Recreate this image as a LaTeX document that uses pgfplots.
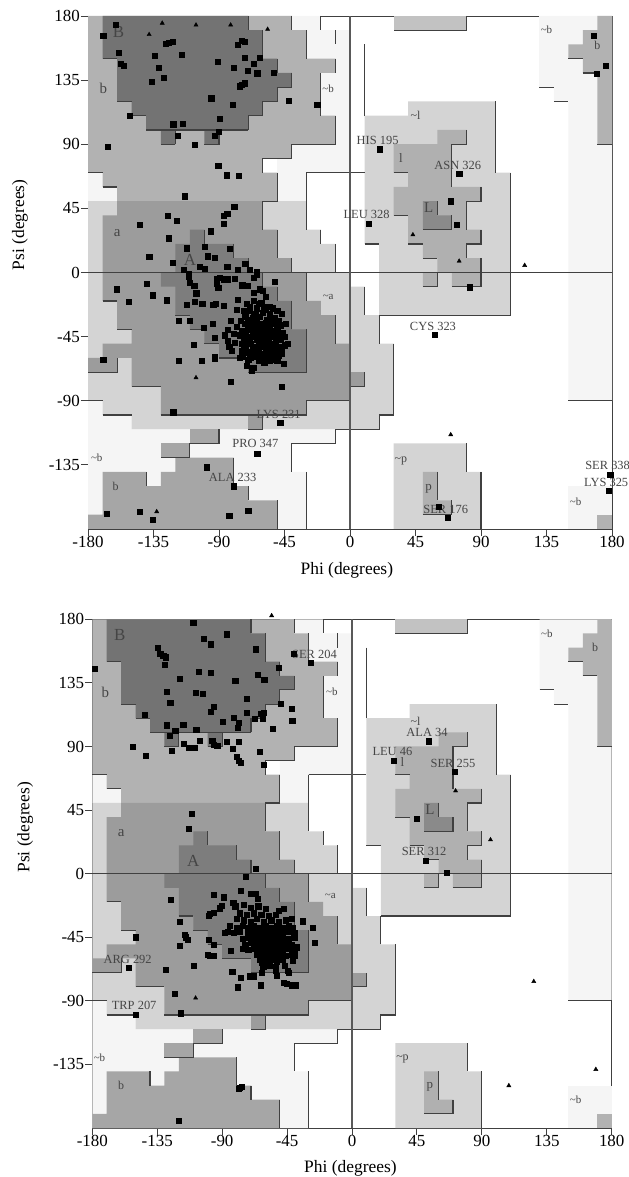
\documentclass[border=0pt]{standalone}
\usepackage{pgfplots}
\pgfplotsset{compat=1.18}
\usepackage{fontspec}
\setmainfont{Liberation Serif}
\definecolor{cB}{gray}{0.45}
\definecolor{cA}{gray}{0.49}
\definecolor{ca}{gray}{0.61}
\definecolor{cb}{gray}{0.70}
\definecolor{clb}{gray}{0.65}
\definecolor{cga}{gray}{0.83}
\definecolor{cp}{gray}{0.96}
\definecolor{cl}{gray}{0.69}
\definecolor{cgl}{gray}{0.83}
\definecolor{cL}{gray}{0.54}
\definecolor{cst}{gray}{0.76}
\definecolor{cln}{gray}{0.25}
\definecolor{ctx}{gray}{0.27}
\newcommand{\regions}{%
% very pale
\addplot[fill=cp,draw=none] coordinates {(-180,-90)(-170,-90)(-170,-100)(-150,-100)(-150,-110)(-10,-110)(-10,-120)(-40,-120)(-40,-140)(-30,-140)(-30,-180)(-180,-180)} -- cycle;
\addplot[fill=cp,draw=none] coordinates {(-180,70)(-170,70)(-170,60)(-160,60)(-160,50)(-180,50)} -- cycle;
\addplot[fill=cp,draw=none] coordinates {(-40,180)(-20,180)(-20,170)(0,170)(0,70)(-30,70)(-30,50)(-50,50)(-50,180)} -- cycle;
\addplot[fill=cp,draw=none] coordinates {(130,180)(180,180)(180,-90)(150,-90)(150,120)(140,120)(140,130)(130,130)} -- cycle;
\addplot[fill=cp,draw=none] coordinates {(150,-150)(180,-150)(180,-180)(150,-180)} -- cycle;
% light a
\addplot[fill=cga,draw=none] coordinates {(-180,50)(-30,50)(-30,30)(-20,30)(-20,20)(-10,20)(-10,0)(0,0)(0,-10)(10,-10)(10,-30)(20,-30)(20,-50)(30,-50)(30,-100)(20,-100)(20,-110)(-150,-110)(-150,-100)(-170,-100)(-170,-90)(-180,-90)} -- cycle;
% b upper
\addplot[fill=cb,draw=none] coordinates {(-180,180)(-40,180)(-40,170)(-30,170)(-30,150)(-10,150)(-10,140)(-20,140)(-20,110)(-10,110)(-10,90)(-40,90)(-40,80)(-60,80)(-60,70)(-50,70)(-50,50)(-160,50)(-160,60)(-170,60)(-170,70)(-180,70)} -- cycle;
% a
\addplot[fill=ca,draw=none] coordinates {(-160,50)(-60,50)(-60,30)(-50,30)(-50,10)(-40,10)(-40,0)(-30,0)(-30,-20)(-20,-20)(-20,-30)(-10,-30)(-10,-50)(0,-50)(0,-90)(-30,-90)(-30,-100)(-60,-100)(-60,-110)(-70,-110)(-70,-100)(-130,-100)(-130,-80)(-150,-80)(-150,-60)(-160,-60)(-160,-70)(-180,-70)(-180,-60)(-170,-60)(-170,-50)(-150,-50)(-150,-40)(-160,-40)(-160,-20)(-170,-20)(-170,40)(-160,40)} -- cycle;
\addplot[fill=ca,draw=none] coordinates {(0,-70)(10,-70)(10,-80)(0,-80)} -- cycle;
% lower b
\addplot[fill=clb,draw=none] coordinates {(-170,-140)(-140,-140)(-140,-150)(-130,-150)(-130,-140)(-120,-140)(-120,-130)(-80,-130)(-80,-150)(-70,-150)(-70,-160)(-50,-160)(-50,-180)(-180,-180)(-180,-170)(-170,-170)} -- cycle;
\addplot[fill=clb,draw=none] coordinates {(-130,-120)(-110,-120)(-110,-130)(-130,-130)} -- cycle;
\addplot[fill=clb,draw=none] coordinates {(-110,-110)(-90,-110)(-90,-120)(-110,-120)} -- cycle;
% B core
\addplot[fill=cB,draw=none] coordinates {(-170,180)(-70,180)(-70,170)(-60,170)(-60,150)(-50,150)(-50,140)(-40,140)(-40,130)(-50,130)(-50,120)(-60,120)(-60,110)(-70,110)(-70,100)(-90,100)(-90,90)(-100,90)(-100,100)(-120,100)(-120,90)(-130,90)(-130,100)(-140,100)(-140,110)(-150,110)(-150,120)(-160,120)(-160,150)(-170,150)} -- cycle;
% A core
\addplot[fill=cA,draw=none] coordinates {(-110,30)(-100,30)(-100,20)(-80,20)(-80,10)(-70,10)(-70,0)(-60,0)(-60,-10)(-50,-10)(-50,-20)(-40,-20)(-40,-40)(-30,-40)(-30,-70)(-70,-70)(-70,-60)(-90,-60)(-90,-50)(-100,-50)(-100,-40)(-110,-40)(-110,-30)(-120,-30)(-120,-10)(-130,-10)(-130,0)(-120,0)(-120,20)(-110,20)} -- cycle;
% top strip, l regions
\addplot[fill=cst,draw=none] coordinates {(30,180)(80,180)(80,170)(30,170)} -- cycle;
\addplot[fill=cgl,draw=none] coordinates {(40,120)(100,120)(100,70)(110,70)(110,-30)(20,-30)(20,20)(10,20)(10,110)(40,110)} -- cycle;
\addplot[fill=cl,draw=none] coordinates {(60,100)(80,100)(80,90)(70,90)(70,60)(90,60)(90,50)(80,50)(80,30)(90,30)(90,20)(80,20)(80,10)(90,10)(90,-10)(70,-10)(70,0)(60,0)(60,-10)(50,-10)(50,0)(60,0)(60,10)(50,10)(50,20)(40,20)(40,40)(30,40)(30,60)(40,60)(40,70)(30,70)(30,90)(60,90)} -- cycle;
\addplot[fill=cL,draw=none] coordinates {(50,50)(60,50)(60,40)(70,40)(70,30)(50,30)} -- cycle;
% p
\addplot[fill=cgl,draw=none] coordinates {(30,-120)(80,-120)(80,-140)(90,-140)(90,-180)(30,-180)} -- cycle;
\addplot[fill=cl,draw=none] coordinates {(50,-140)(60,-140)(60,-160)(70,-160)(70,-170)(50,-170)} -- cycle;
% right b
\addplot[fill=cb,draw=none] coordinates {(170,180)(180,180)(180,90)(170,90)(170,140)(160,140)(160,150)(150,150)(150,160)(160,160)(160,170)(170,170)} -- cycle;
\addplot[fill=cb,draw=none] coordinates {(170,-170)(180,-170)(180,-180)(170,-180)} -- cycle;
% outline segments
\addplot[cln,line width=1.1pt,unbounded coords=jump] coordinates {
(-170,150)(-160,150)(nan,nan)(-160,120)(-150,120)(nan,nan)(-150,110)(-140,110)(nan,nan)(-140,100)(-70,100)(nan,nan)
(-130,90)(-120,90)(nan,nan)(-120,90)(-120,100)(nan,nan)(-100,90)(-90,90)(-90,100)(nan,nan)
(-70,180)(-70,170)(nan,nan)(-60,170)(-60,150)(nan,nan)(-50,150)(-50,140)(nan,nan)(-40,140)(-40,130)(-50,130)(-50,120)(-60,120)(-60,110)(-70,110)(-70,100)(nan,nan)
(-40,180)(-40,170)(nan,nan)(-30,170)(-30,150)(nan,nan)(-10,150)(-10,140)(nan,nan)(-20,140)(-20,110)(nan,nan)(-10,110)(-10,90)(-40,90)(-40,80)(-60,80)(-60,70)(nan,nan)
(-50,70)(-50,50)(-60,50)(-60,30)(nan,nan)(-50,30)(-50,10)(nan,nan)(-40,10)(-40,0)(nan,nan)(-30,0)(-30,-20)(nan,nan)
(-180,70)(-170,70)(nan,nan)(-170,60)(-160,60)(nan,nan)
(-20,180)(-20,170)(nan,nan)(-10,170)(-10,160)(nan,nan)(10,160)(10,110)(nan,nan)(-30,70)(10,70)(nan,nan)(-30,70)(-30,30)(nan,nan)(-20,30)(-20,20)(nan,nan)(-10,20)(-10,0)(nan,nan)
(-100,30)(-100,20)(nan,nan)(-80,20)(-80,10)(nan,nan)(-70,10)(-70,0)(nan,nan)(-60,0)(-60,-10)(nan,nan)(-50,-10)(-50,-20)(nan,nan)(-40,-20)(-40,-40)(nan,nan)
(-170,-20)(-160,-20)(nan,nan)(-160,-40)(-150,-40)(nan,nan)(-180,-70)(-160,-70)(-160,-60)(nan,nan)(-150,-80)(-130,-80)(nan,nan)(-130,-100)(-30,-100)(-30,-90)(0,-90)(nan,nan)(-170,-100)(-150,-100)(nan,nan)(-180,-90)(-170,-90)(nan,nan)
(-120,-30)(-110,-30)(nan,nan)(-110,-40)(-100,-40)(nan,nan)(-100,-50)(-90,-50)(nan,nan)(-90,-60)(-70,-60)(nan,nan)(-70,-70)(-30,-70)(-30,-40)(nan,nan)
(-70,-110)(-60,-110)(-60,-100)(nan,nan)(-10,-110)(-10,-120)(-40,-120)(-40,-140)(nan,nan)(-30,-140)(-30,-180)(nan,nan)
(-90,-110)(-90,-120)(-110,-120)(-110,-130)(-130,-130)(nan,nan)(-140,-140)(-140,-150)(nan,nan)(-80,-130)(-80,-150)(nan,nan)(-70,-150)(-70,-160)(nan,nan)(-50,-160)(-50,-180)(nan,nan)
(-10,-30)(-10,-50)(nan,nan)(10,-10)(10,-30)(nan,nan)(20,-30)(20,-50)(nan,nan)(30,-50)(30,-100)(20,-100)(20,-110)(-10,-110)(nan,nan)(0,-80)(10,-80)(10,-70)(nan,nan)
(80,180)(80,170)(30,170)(nan,nan)(100,120)(100,70)(nan,nan)(110,70)(110,-30)(20,-30)(nan,nan)(10,20)(20,20)(nan,nan)
(80,100)(80,90)(70,90)(70,60)(nan,nan)(90,60)(90,50)(80,50)(80,30)(nan,nan)(90,30)(90,20)(80,20)(80,10)(nan,nan)(90,10)(90,-10)(70,-10)(nan,nan)(60,0)(60,-10)(50,-10)(nan,nan)(50,10)(60,10)(nan,nan)(40,20)(50,20)(nan,nan)(30,40)(40,40)(nan,nan)(30,70)(40,70)(nan,nan)
(60,50)(60,40)(nan,nan)(70,40)(70,30)(50,30)(nan,nan)
(80,-120)(80,-140)(nan,nan)(90,-140)(90,-180)(nan,nan)(60,-140)(60,-160)(nan,nan)(70,-160)(70,-170)(50,-170)(nan,nan)
(130,130)(140,130)(nan,nan)(140,120)(150,120)(nan,nan)(170,90)(180,90)(nan,nan)(150,150)(160,150)(nan,nan)(160,140)(170,140)(nan,nan)(150,-90)(180,-90)
};
\addplot[cln,line width=1pt] coordinates {(-180,0)(180,0)};
\addplot[black!65,line width=1.5pt] coordinates {(0,-180)(0,180)};
}
\newcommand{\zlabel}[3]{\node[text=ctx,font=\fontsize{12.5}{14}\selectfont,inner sep=0pt] at (axis cs:#1,#2) {#3};}
\newcommand{\rlabel}[3]{\node[text=ctx,font=\fontsize{#3}{14}\selectfont,inner sep=0pt] at (axis cs:#1) {#2};}
\newcommand{\tl}{\textasciitilde}
\pgfplotsset{rama/.style={
  scale only axis,clip=false,axis on top=false,
  xmin=-180,xmax=180,ymin=-180,ymax=180,
  xtick={-180,-135,-90,-45,0,45,90,135,180},
  ytick={-135,-90,-45,0,45,90,135,180},
  xticklabels={-180,-135,-90,-45,0,45,90,135,180},
  yticklabels={-135,-90,-45,0,45,90,135,180},
  tick align=outside,major tick length=7bp,
  axis line style={cln,line width=0.9pt},
  tick style={cln,line width=0.9pt},
  xtick pos=bottom,ytick pos=left,
  every tick label/.style={font=\fontsize{17}{19}\selectfont},
  xlabel={Phi (degrees)},ylabel={Psi (degrees)},
  label style={font=\fontsize{17.5}{19}\selectfont},
  xticklabel style={yshift=1bp,inner sep=1bp},
  yticklabel style={inner sep=1bp},
}}
\begin{document}
\begin{tikzpicture}
\path[use as bounding box] (0,0) rectangle (629bp,1177bp);
\begin{axis}[rama,at={(88bp,648bp)},anchor=south west,width=524bp,height=513bp,
  xlabel style={at={(axis description cs:0.494,-0.08)},anchor=center},
  ylabel style={at={(axis description cs:-0.13,0.593)},anchor=center,rotate=0}]
\regions
\addplot[only marks,mark=square*,mark size=2.6bp,black] coordinates {
(-169.5,166)(-161,174)(-158.7,154)(-157.3,146.4)(-155.3,145)(-151.6,110)(-166.3,88.4)(-136.3,133.7)(-134.2,152)(-131.7,143.8)(-128.2,136.5)(-126.6,160.6)(-124.4,161.5)(-122,162)(-115.9,153)(-90.9,147.8)(-77.4,160)(-74.4,162.7)(-72.1,162)(-72.1,151)(-79.7,143.8)(-70.5,141.7)(-66,146.4)(-62.3,150.8)(-63.7,139.8)(-52.2,140)(-76,130.7)(-74.4,131.6)(-72.1,132.8)(-95.3,122.3)(-80.8,117.6)(-41.9,120.7)(-22.5,117.6)(-121.4,104)(-115.2,104.5)(-89.3,107.8)(-90,99)(-93.2,96)(-118.6,96)(-106.5,89.6)(-90.5,74.9)(-84.5,68.3)(-76.7,68)(-113.4,53.6)(-79.5,45.9)(-84.3,41)(-86.6,40)(-125.3,39.6)(-119.3,36.3)(-144.7,33.5)(-87,34)(-95.7,29)(-124.8,24)(-112.2,17)(-100,18)(-82.5,16.7)(-137.9,11.3)(-97.8,11.5)(-92.8,10.4)(-122,6.6)(-72,6)(-103.5,4.3)(-100,2.7)(-84.3,4.3)(-114.5,1.7)(-77.4,2)(-68.7,2)(-64,0.8)(-111,-1)
(-160.3,-11.7)(-139.5,-8)(-135.8,-16)(-152.3,-20.3)(-126,-19.4)(-105.6,-14.5)(-112.2,-22.7)(-106.5,-20.6)(-101.5,-22)(-94,-22.7)(-92.3,-22)(-87,-23.4)(-117.5,-33.9)(-110,-33.9)(-100.3,-38.6)(-94.6,-36.2)(-107.6,-50.7)(-92.8,-46)(-117.5,-62)(-101.7,-62)(-92.8,-59)(-93.2,-60.7)(-75.6,-59.8)(-81.3,-55)(-71,-65.4)(-169.5,-61.2)(-81.8,-76.4)(-47,-80.4)(-121.4,-98)(-48,-105.6)(-67.6,-69)(-66.5,-66.6)(-45.8,-64)(-51.5,-6.5)(-63.7,-127.3)(-98.5,-136.7)(-79.7,-150)(-69.9,-167)(-83,-170.6)(-167,-169.4)(-144.7,-168)(-135.6,-173.4)
(-91.6,-4.7)(-89.3,-3.5)(-86.6,-4.7)(-84.3,-4.7)(-91.6,-7.5)(-90.5,-10.5)(-111,-2.8)(-110,-7)(-107,-9.3)(-79,-4.2)(-74,-8.9)(-70.5,-9.3)(-61.8,-11.7)(-66,-3.5)(-64,-1.2)
(-66,-14)(-60,-13)(-58,-17)(-77,-19)(-71,-22)(-66,-20)(-61,-21)(-55,-24)(-78,-26)(-69,-27)(-64,-25)(-60,-28)(-55,-29)(-50,-27)(-72,-31)(-67,-32)(-62,-31)(-57,-33)(-52,-32)(-47,-29)
(-82,-34)(-72,-36)(-68,-35)(-65,-37)(-60,-36)(-56,-38)(-52,-36)(-44,-36)(-84,-40)(-78,-38)(-74,-41)(-70,-40)(-66,-42)(-62,-41)(-58,-43)(-54,-41)(-50,-40)(-46,-42)
(-86,-44)(-84,-48)(-80,-43)(-79,-49)(-71,-46)(-68,-45)(-64,-47)(-60,-46)(-56,-48)(-52,-45)(-48,-47)(-45,-45)(-83,-52)(-74,-50)(-72,-52)(-68,-50)(-65,-53)(-61,-51)(-57,-53)(-53,-50)(-49,-52)(-45,-51)(-43,-50)
(-74,-55)(-70,-56)(-66,-55)(-62,-57)(-58,-55)(-54,-57)(-50,-55)(-47,-57)(-68,-60)(-64,-59)(-60,-61)(-56,-59)(-52,-61)
(-69,-48)(-63,-50)(-59,-49)(-55,-52)(-51,-49)(-67,-44)(-62,-44)(-57,-45)(-53,-43)(-49,-43)(-70,-38)(-63,-38)(-58,-39)(-54,-35)(-65,-29)(-58,-26)
(-69,-24)(-63,-22)(-73,-27)(-66,-30)(-59,-24)(-53,-25)(-75,-34)(-70,-33)(-64,-34)(-58,-35)(-53,-33)(-49,-34)(-76,-44)(-73,-46)(-66,-39)(-60,-40)(-55,-38)(-48,-37)(-72,-43)(-65,-44)(-60,-43)(-55,-44)(-51,-46)(-70,-49)(-67,-52)(-63,-53)(-59,-52)(-55,-55)(-51,-53)(-47,-54)(-73,-54)(-69,-58)(-65,-57)(-61,-59)(-57,-58)(-53,-59)(-49,-58)(-63,-62)(-59,-63)(-55,-62)(-50,-62)(-70,-61)(-74,-59)
(20.6,86.5)(75,69.3)(69.4,50)(73.3,33.3)(12.6,34.4)(58.2,-43.9)(82.5,-10.3)(167.4,166)(175.4,145)(169.7,139.4)(178.8,-142)(177.5,-153)(67,-172)(60.8,-164.5)
};
\addplot[only marks,mark=triangle*,mark size=2.4bp,black] coordinates {
(-138,167)(-129,175)(-105.8,173.7)(-82,173.7)(-56.6,170.7)(-132.8,-167.8)(-105.8,-73.8)(43.2,26.5)(75,8)(120,5)(69.2,-113.8)
};
\rlabel{-159,168.5}{B}{17}\rlabel{-169.5,129}{b}{15}\rlabel{-15,129}{\tl b}{11}\rlabel{-160,28}{a}{15}\rlabel{-110,8.5}{A}{17}
\rlabel{-15,-17}{\tl a}{11}\rlabel{-174,-130}{\tl b}{11}\rlabel{-161,-150}{b}{12}\rlabel{45,110}{\tl l}{12}\rlabel{35,80}{l}{13}\rlabel{54,45.5}{L}{15}
\rlabel{35,-132}{\tl p}{12}\rlabel{54,-151.6}{p}{13}\rlabel{135,170}{\tl b}{11}\rlabel{170,159.5}{b}{12}\rlabel{155,-161}{\tl b}{11}
\zlabel{19}{93}{HIS 195}\zlabel{74}{75.4}{ASN 326}\zlabel{11.4}{40.5}{LEU 328}\zlabel{57}{-38}{CYS 323}\zlabel{65.8}{-166}{SER 176}\zlabel{177}{-135.7}{SER 338}\zlabel{176}{-147}{LYS 325}
\zlabel{-49}{-99.3}{LYS 231}\zlabel{-65}{-120}{PRO 347}\zlabel{-80.6}{-143.7}{ALA 233}
\end{axis}
\begin{axis}[rama,at={(92.3bp,49bp)},anchor=south west,width=519.4bp,height=508.7bp,
  xlabel style={at={(axis description cs:0.497,-0.079)},anchor=center},
  ylabel style={at={(axis description cs:-0.129,0.591)},anchor=center,rotate=0}]
\regions
\addplot[only marks,mark=square*,mark size=2.6bp,black] coordinates {
(-178.2,144.8)(-110,177.7)(-86.6,169.4)(-103,166.4)(-97.7,162.4)(-66.5,158.9)(-134.7,159.8)(-133,155.6)(-130.8,154.2)(-129,153.2)(-130,147.6)(-40.4,155.4)(-28.4,149.5)(-51,145.5)(-106.5,143)(-97.7,142.4)(-119.2,138)(-65.6,141)(-60.8,137)(-81,136.8)(-128.7,128.8)(-108.4,127.9)(-103.7,127.4)(-73.2,123.9)(-126,120.8)(-49.4,120)(-42,116.9)(-95.7,118)(-98.2,114.5)(-73.2,113.8)(-61.4,113.8)(-63.5,113.3)(-62,110)(-143.5,112.4)(-41.4,108.4)(-67.7,109.8)(-89.4,107.5)(-82.2,110.3)(-78.5,107)(-79.2,103.2)(-128.7,105)(-117,105.4)(-108,102)(-54.8,102.5)(-122.5,101)(-126.4,97.4)(-105.8,94.3)(-116.4,92)(-113.4,89.2)(-111,89)(-108.8,89)(-96.9,94)(-95.7,91)(-93.4,90.3)(-86.6,93.2)(-82.5,88.7)(-78.8,93.2)(-124.8,86.8)(-151.8,90)(-142.8,83.3)(-63.8,86.3)(-79.7,82.6)(-78.8,80.2)(-77.4,78.6)(-61,77)(-111.2,42.2)(-113.2,31.6)(-66.5,3.7)(-73.5,-2.4)
(-125.5,-18.6)(-119.5,-34)(-150,-45)(-119.7,-51)(-116.2,-43)(-115,-45)(-114,-46.7)(-99.6,-47)(-96,-50.5)(-100,-57.5)(-98.4,-58)(-96,-58)(-109.5,-65)(-129,-68)(-154.6,-66.7)(-83,-69.3)(-77,-73.8)(-79.5,-80.4)(-70.7,-72.6)(-68.5,-72.6)(-63.5,-79)(-123,-84.7)(-150,-99.8)(-118.8,-98.8)(-47.6,-77)(-45.3,-78)(-41.8,-79)(-38.8,-79)(-120,-175)(-78.8,-152.4)(-77.6,-151.4)(-76.5,-151)
(-95.6,-15)(-88.7,-16.7)(-77,-12)(-90.3,-22.6)(-91.5,-24.5)(-98.4,-28.5)(-96,-27.4)(-99.6,-30)(-82.3,-20.3)(-81,-23)(-70,-14)(-67,-14.4)(-65.4,-18)(-84,-54.5)(-88,-42)(-34,-33.7)(-27,-38)(-26,-48.8)(-38.3,-52)(-39.5,-58)(-41.2,-61.6)(-46.4,-65)(-44.8,-68.6)(-44,-70)(-52.7,-68.6)(-52,-72)(-62.6,-62.7)(-61.5,-66)(-62.6,-70)(-47.6,-25)(-51,-26.2)
(-75,-22)(-70,-24)(-65,-23)(-60,-25)(-78,-28)(-73,-29)(-68,-28)(-63,-29)(-58,-30)(-53,-29)(-80,-32)(-75,-33)(-70,-34)(-66,-32)(-61,-34)(-56,-33)(-51,-34)(-46,-33)(-42,-32)
(-85,-37)(-80,-38)(-76,-37)(-72,-38)(-68,-37)(-64,-38)(-60,-37)(-56,-38)(-52,-37)(-48,-38)(-44,-37)(-41,-38)
(-86,-41)(-82,-42)(-78,-41)(-72,-42)(-68,-41)(-64,-42)(-60,-41)(-56,-42)(-52,-41)(-48,-42)(-44,-41)(-40,-42)
(-76,-46)(-72,-45)(-68,-46)(-64,-45)(-60,-46)(-56,-45)(-52,-46)(-48,-45)(-44,-46)(-40,-45)
(-74,-50)(-70,-49)(-66,-50)(-62,-49)(-58,-50)(-54,-49)(-50,-50)(-46,-49)(-42,-50)
(-76,-53)(-72,-54)(-68,-53)(-64,-54)(-60,-53)(-56,-54)(-52,-53)(-48,-54)(-44,-53)(-40,-54)
(-66,-57)(-62,-58)(-58,-57)(-54,-58)(-50,-57)(-46,-58)(-42,-57)
(-64,-61)(-60,-62)(-56,-61)(-52,-62)(-48,-61)(-57,-65)(-53,-66)
(-70,-44)(-66,-44)(-62,-44)(-58,-44)(-54,-44)(-50,-44)(-66,-48)(-62,-48)(-58,-48)(-54,-48)(-50,-48)(-62,-39)(-58,-40)(-54,-40)(-50,-40)(-64,-52)(-60,-51)(-56,-51)(-52,-51)(-48,-51)(-60,-56)(-56,-56)(-52,-56)
(53,93.8)(29,80)(71.4,71.9)(44.7,39)(51,9)(65.6,0.8)
};
\addplot[only marks,mark=triangle*,mark size=2.4bp,black] coordinates {
(-55.7,182.6)(-108.4,-88)(71.8,58.6)(96,24)(126,-76.3)(108.7,-150)(169,-138.5)
};
\rlabel{-161,169}{B}{17}\rlabel{-171,128}{b}{15}\rlabel{-14,129}{\tl b}{11}\rlabel{-160,28.6}{a}{15}\rlabel{-110,9.3}{A}{17}
\rlabel{-15,-16}{\tl a}{11}\rlabel{-175,-130}{\tl b}{11}\rlabel{-160,-150}{b}{12}\rlabel{44,108}{\tl l}{12}\rlabel{35,79}{l}{13}\rlabel{54,45.6}{L}{15}
\rlabel{35,-131}{\tl p}{12}\rlabel{54,-151}{p}{13}\rlabel{135,170}{\tl b}{11}\rlabel{168.5,160}{b}{12}\rlabel{155,-160}{\tl b}{11}
\zlabel{52}{100}{ALA 34}\zlabel{28}{86.5}{LEU 46}\zlabel{70}{78}{SER 255}\zlabel{50}{15.6}{SER 312}\zlabel{-26}{155.4}{SER 204}\zlabel{-155.5}{-60.4}{ARG 292}\zlabel{-151}{-93}{TRP 207}
\end{axis}
\end{tikzpicture}
\end{document}
